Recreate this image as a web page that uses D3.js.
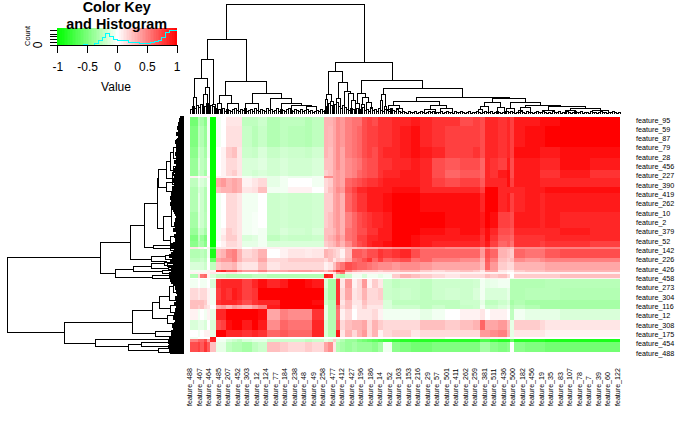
<!DOCTYPE html>
<html><head><meta charset="utf-8">
<script src="https://cdnjs.cloudflare.com/ajax/libs/d3/7.8.5/d3.min.js"></script>
<style>html,body{margin:0;padding:0;background:#fff}svg{display:block}text{font-family:"Liberation Sans",Arial,sans-serif;fill:#000}</style>
</head><body><svg id="c" width="700" height="432"></svg>
<script>
const columnLabels=["488","467","464","485","207","452","303","12","124","77","184","238","48","49","258","477","412","427","196","186","14","52","163","153","216","29","57","501","411","262","259","381","511","436","500","182","456","19","35","83","107","78","7","39","60","122"];
const rowLabels=["95","59","87","79","28","456","227","390","419","262","10","2","379","52","142","226","426","458","273","304","116","12","308","175","454","488"];
const colSizes=[8,2,4,3,3,6,5,5,6,5,5,10,6,9,13,8,17,7,12,4,5,3,4,5,7,5,5,5,5,6,5,9,8,11,9,12,13,15,13,7,5,5,8,9,3,4,11,15,5,15,30,30];
const rowSizes=[9,21,11,12,6,2,9,6,19,16,7,6,6,2,9,4,8,2,2,4,1,9,12,5,4,11,10,7,2,3,10];
const cellValues=[
[-55,-30,-35,-45,-5,-100,-5,0,10,10,10,-25,-25,-20,-30,-25,-25,-30,-25,30,30,35,45,40,50,55,55,70,75,70,80,80,85,85,90,85,80,80,70,75,70,85,85,80,85,75,90,90,95,95,100,100],
[-50,-25,-30,-40,-5,-100,-5,0,12,12,12,-22,-28,-22,-30,-25,-28,-30,-25,30,28,35,45,40,50,55,60,70,75,75,80,80,85,90,95,85,80,75,75,75,70,85,85,80,85,75,90,95,95,100,100,100],
[-45,-20,-25,-35,-5,-100,0,5,20,25,10,-20,-22,-15,-22,-18,-20,-22,-18,30,25,35,45,35,50,55,60,70,75,70,80,85,85,90,95,90,85,75,75,80,70,85,85,80,85,75,95,95,90,90,95,95],
[-40,-15,-25,-30,0,-100,0,5,15,15,10,-15,-15,-12,-18,-15,-18,-18,-15,25,25,35,45,35,45,50,55,65,70,70,80,80,85,85,90,85,70,65,70,70,60,85,80,75,90,70,90,90,85,85,95,90],
[-40,-20,-25,-35,0,-100,0,5,15,20,10,-15,-18,-15,-18,-15,-18,-18,-15,20,25,35,40,35,45,50,60,65,70,70,80,85,85,90,90,85,70,60,65,65,60,85,80,90,95,70,90,90,80,80,90,80],
[5,0,5,5,5,-100,5,5,5,5,5,-5,-10,-8,-10,-5,-8,-8,-5,45,45,35,40,35,45,50,60,65,70,70,80,85,85,90,90,85,70,60,65,65,60,85,80,90,95,70,90,90,80,80,90,80],
[-25,-10,-15,-20,0,-100,35,40,30,35,30,5,10,15,-10,-5,0,0,-5,15,20,35,40,35,60,65,70,75,80,80,85,90,90,90,90,85,75,70,75,75,65,85,85,85,95,75,90,90,85,85,85,85],
[-30,-15,-20,-30,0,-100,25,30,30,35,30,10,12,25,-5,-5,5,5,0,15,25,35,45,40,65,75,85,85,90,90,90,90,95,95,95,85,85,85,85,85,75,100,100,85,85,85,85,90,90,95,95,95],
[-30,-10,-20,-30,0,-100,-5,0,15,15,10,-5,-5,0,-20,-18,-20,-20,-18,20,20,35,40,30,60,70,80,80,90,90,90,95,100,100,100,95,95,95,95,95,85,100,100,85,90,75,85,90,85,90,90,90],
[-35,-12,-20,-28,0,-100,-5,0,15,15,10,-5,-3,0,-20,-18,-20,-20,-18,20,25,35,40,30,50,60,70,75,80,85,85,90,100,100,100,100,100,95,95,95,90,100,95,75,75,70,90,90,85,90,85,85],
[-40,-20,-25,-35,0,-100,-5,5,20,15,10,-5,-3,-5,-20,-15,-18,-20,-15,25,25,30,40,30,55,60,70,70,80,80,90,90,100,100,100,95,95,90,95,95,85,95,85,70,70,65,85,85,85,85,90,85],
[-50,-25,-40,-50,0,-100,-5,10,20,20,10,-15,-12,-5,-25,-20,-22,-22,-20,25,30,35,45,35,55,60,75,75,85,85,90,90,100,100,95,90,90,90,90,90,80,95,80,65,65,60,80,80,80,85,85,85],
[-45,-30,-35,-45,0,-100,0,5,15,15,10,-10,-10,-5,-15,-15,-15,-15,-15,20,25,30,40,30,45,60,70,75,85,90,90,95,100,100,95,90,85,85,85,85,80,90,75,60,65,55,80,80,75,80,80,75],
[10,5,5,0,5,-60,10,10,10,10,10,0,5,5,5,5,5,5,5,5,15,15,15,15,25,25,30,30,35,35,40,40,45,45,50,50,50,45,45,45,35,50,40,30,30,25,45,45,45,50,50,50],
[-30,-30,-25,-30,-5,-90,25,30,45,50,30,15,20,30,0,5,10,8,10,30,25,20,15,5,25,65,65,60,70,70,80,75,80,85,70,60,60,60,60,60,40,70,60,30,25,20,60,55,55,65,70,70],
[-25,-25,-20,-25,0,-60,35,40,40,50,30,20,20,35,15,15,20,20,20,15,25,10,20,15,30,55,60,70,80,60,75,60,65,70,55,60,50,50,45,45,30,65,50,25,20,25,45,40,45,50,50,50],
[-15,-15,-15,-20,0,-25,20,25,25,30,15,10,10,25,10,15,15,15,15,5,10,25,45,55,70,65,60,60,55,50,45,45,40,45,45,40,35,35,35,35,25,60,40,20,15,15,30,30,30,35,35,35],
[-5,-5,-5,-5,5,5,80,85,70,70,50,40,40,50,35,35,40,40,35,25,40,60,85,75,50,35,30,25,25,25,20,25,25,30,30,20,15,20,25,20,10,35,35,10,5,5,20,25,25,30,30,30],
[5,5,5,5,5,10,5,5,10,10,5,0,0,5,0,0,0,0,0,5,5,10,40,55,10,5,5,5,5,5,5,5,5,5,5,5,5,5,5,5,5,5,5,5,0,0,5,5,5,5,5,5],
[-30,15,55,60,5,-15,-25,-25,-30,-30,-30,-30,-25,-25,-30,-30,-30,-30,-30,90,85,10,-25,-30,-20,-5,-5,-15,-5,-5,-10,-5,20,30,25,20,15,10,15,15,15,25,20,25,15,0,20,20,20,20,25,25],
[0,0,0,0,0,0,5,5,5,5,5,5,5,5,5,5,5,5,5,10,10,0,30,5,5,0,0,0,0,0,0,0,5,5,5,5,0,0,0,0,0,5,5,5,0,-5,5,5,5,5,5,5],
[-5,0,-5,-5,0,-15,80,85,85,85,85,75,85,95,85,90,100,95,90,-15,-35,-35,80,10,40,5,15,40,5,20,10,-20,-25,-22,-22,-25,-20,-20,-20,-18,-5,-10,-8,-5,-5,-30,-30,-30,-30,-28,-28,-28],
[15,10,15,15,5,-5,75,85,80,90,85,75,80,100,100,100,100,100,100,-20,-35,-35,80,15,35,10,15,30,15,15,20,-20,-22,-20,-22,-25,-20,-18,-20,-15,-5,-15,-15,-15,-10,-30,-30,-28,-28,-28,-30,-30],
[25,25,25,20,5,-5,80,85,85,85,80,70,80,85,85,100,100,100,95,-20,-30,-30,80,10,25,10,10,25,15,15,15,-15,-25,-25,-25,-25,-25,-25,-20,-20,-10,-25,-25,-20,-15,-35,-30,-35,-35,-35,-35,-35],
[25,20,25,15,10,0,35,40,30,40,35,30,40,50,90,100,100,100,100,-10,-30,-30,60,15,25,5,10,20,10,10,10,-15,-20,-20,-20,-25,-20,-25,-22,-20,-5,-20,-20,-15,-10,-30,-25,-30,-35,-35,-35,-35],
[5,-5,0,-5,5,-10,85,85,100,100,100,100,100,95,35,50,45,45,80,-10,-30,-30,55,5,15,0,10,10,10,15,5,-5,-5,-5,-5,-10,-5,0,5,5,10,0,5,5,0,-25,-5,-10,-10,-10,-15,-15],
[-15,-10,-10,-15,0,-15,70,75,95,100,100,90,100,90,45,60,55,55,85,-15,-30,-30,60,15,25,30,30,35,15,30,20,15,15,15,15,25,25,20,25,30,60,35,35,40,25,-10,20,20,15,10,10,10],
[0,-5,0,5,5,-10,100,100,85,85,85,80,85,80,60,65,60,60,85,-15,-30,-30,90,10,30,15,30,40,15,30,5,15,20,20,10,15,15,15,15,15,40,40,45,50,30,-10,10,10,10,5,5,5],
[-5,0,0,0,0,90,0,0,0,0,0,0,0,0,0,0,0,0,0,0,0,0,0,0,0,0,0,0,0,0,0,0,0,0,0,5,5,0,0,0,10,10,5,5,0,-5,0,0,0,0,0,0],
[50,60,60,70,40,85,-5,-5,-15,-20,-25,-15,-10,-10,-20,-20,-20,-25,-20,-10,-15,20,-20,-30,-40,-40,-50,-55,-60,-65,-70,-75,-80,-85,-85,-85,-85,-85,-85,-85,-70,-70,-80,-85,-85,-60,-85,-85,-85,-90,-90,-90],
[70,75,65,80,65,25,-10,-10,-25,-30,-30,-35,-25,-20,25,20,15,20,15,35,45,10,-30,-35,-40,-35,-40,-40,-40,-45,-35,-5,-45,-50,-55,-55,-50,-50,-50,-50,-35,-35,-45,-50,-45,0,-45,-50,-50,-55,-55,-55]
];
const keyHistogram=[0,0,0,0,0,0,0,1,0,0,2,5,8,12,9,6,4.5,4.5,4.5,3,2.5,2.5,2,1.8,2,2.5,4,5,8,13,15,14.5];
const keyTicks=[-1,-0.5,0,0.5,1];
const keyCountTicks=[0,3,6,8.5,11,14.5];
// dendrogram nodes: [leaf position, merge height, left, right]; a bare number is a leaf
const colTree=[105.5,109.5,
 [36.5,74.5,
  [17.3,54.5,
   [11.3,35.5,[4.3,16.5,3,6.3],[17.3,26.5,[15,19.5,13.3,17.3],19.3]],
   [23.3,9.5,22,25.3]],
  [56.3,32.7,
   [35.3,18.5,[29.3,10.7,27.3,31.3],[41.3,10.4,37.3,48.3]],
   [76.3,20.7,[62.3,10.7,55.3,68.7],[91.3,15.7,80.3,[101.3,10.3,91.7,[111.7,9,101.7,[121.7,7.3,116.7,126.7]]]]]]],
 [174.5,51.7,
  [145.3,42.5,
   [138.3,19.5,[136.3,14.7,135.5,137.3],[141.7,12.3,140.3,143.5]],
   [152.3,31.5,[148.3,15.7,146.5,150],[157.7,22.7,154.3,[160.7,20.7,158.5,[163,14,161,165]]]]],
  [202.3,33.7,
   [171.3,20.7,[167.3,11,165.5,169.5],[175.3,16.7,[172.3,10,171,174],[178.3,11.7,176.5,[181,7,180,182]]]],
   [232.7,25.7,
    [193.3,19.7,[191.3,14,190,192.5],[195,8,194,196]],
    [272.3,16.7,
     [226,12.7,[203.3,9,[198,5,196,201],[209,6,206,212]],[249.3,9,[240,5,234,245],[256,6,250,262]]],
     [319,16,
      [302.3,11.7,[294.3,8,[290,5,288,292],298],[310.7,7,307,314]],
      [335,11.7,[320,6,[316,3,315,318],324],[350,9,[335,7,[330,4,328,332],340],[370,7.5,[358,4,352,364],[395,6,[380,4,375,385],[410,4,402,418]]]]]]]]]]];
const rowTree=[177.8,176.7,
 [140.3,84,
  [125.3,54,
   [108.7,39.7,
    [86.7,27,
     [61.3,25.5,
      [52.3,18,[44.7,14,[35.7,10.7,[30.3,7.3,22,38],41],[53,11,49,58]],[61.3,12,[55,9,53,58],[67,8,65,69]]],
      [70.3,18,[65.7,10,63,68],[74.7,12,[72,6,71,73],[78,5,76,80]]]],
     [111.3,20.7,[99.7,12.3,[89.7,8,86,93],[109.7,6,106,113]],[123,14,[119,8,117,121],[127,7,125,129]]]],
    [130.5,30.7,[128.7,14,126,131],[131.3,14,130,133]]],
   [142.3,33,[139.7,19,[138,10,136,140],[142,8,141,144]],[144.7,17,[146,8,145,147],149]]],
  [156.3,68.7,
   [152.3,50.7,[149.7,33,[146.3,20,145,148],[151,16,150,152]],[154.7,22,153,156]],
   [160.3,31.7,[158.7,15,157.5,160],[161.3,12,161,163]]]],
 [215.3,119.7,
  [205.3,51.7,
   [193,31.7,
    [185.3,24.7,[179.7,14.7,[169.7,11,[165,7,163,167],[175,6,172,178]],[183,8,181,185]],[191.3,14,[188,8,186,190],[195,7,193,197]]],
    [201.3,17,[198,10,[197,5,196,199],200],[206.3,9,204,209]]],
   [216.3,28.7,[214.7,12,213,216],[219,10,218,220]]],
  [226.3,88.7,
   [222.3,14,221,224],
   [229.7,55.7,[227,42.7,[225.7,16,225,226.5],[229,16,228,230]],[233,26,[231,14,230.5,232],[235,14,234,235]]]]]];
const colTwigHeights=[5,8,6,9,7,10,6,8,11,7,9,8,6,
3,5,4,6,3,5,4,3,5,6,4,3,5,4,6,3,4,5,3,6,4,3,5,4,3,6,4,5,3,4,6,3,5,4,3,5,6,4,3,5,4,3,5,3,4,5,3,4,2,3,4,3,5,3,4,
8,11,9,7,10,12,8,6,9,7,
5,4,6,5,3,6,4,5,7,4,5,3,6,4,5,3,6,4,3,5,4,3,6,4,3,5,3,
2,3,2,1,3,2,2,3,1,2,3,2,1,2,3,2,3,1,2,2,3,1,2,3,2,2,1,3,2,2,3,2,1,2,3,1,2,2,3,2,
1,2,3,2,2,3,1,2,3,2,1,2,2,3,2,3,2,1,2,2,3,2,1,3,2,2,1,2,3,2,2,3,2,1,2,1,3,2,2,3,
1,2,2,3,2,1,2,3,2,2,3,1,2,2,1,3,2,2,1,2,3,2,2,1,2,2,3,2,1,2];
const rowTwigHeights=[3,4,3,5,4,6,4,5,7,5,4,6,8,5,6,4,7,
6,8,5,7,6,9,7,6,8,10,6,8,9,7,10,8,7,9,11,8,
10,12,11,13,12,10,13,11,12,10,9,8,7,
6,8,7,9,6,8,10,7,6,9,8,7,
8,10,12,9,7,10,12,14,9,11,13,10,8,12,10,
12,14,13,11,13,12,10,
6,8,5,7,4,6,8,5,7,9,5,6,8,
6,9,7,10,8,6,9,11,8,10,12,10,
12,14,13,15,13,14,12,14,13];

const svg=d3.select("#c");
const color=d3.scaleLinear().domain([-100,0,100]).range(["#00ff00","#ffffff","#ff0000"]);
const x=d3.scaleLinear().domain([0,d3.sum(colSizes)]).range([190,620]);
const y=d3.scaleLinear().domain([0,d3.sum(rowSizes)]).range([117,352]);
const colEdges=d3.cumsum(colSizes), rowEdges=d3.cumsum(rowSizes);
const hm=svg.append("g").attr("shape-rendering","crispEdges");
cellValues.forEach((row,r)=>{const y0=r?rowEdges[r-1]:0;
 hm.selectAll(null).data(row).enter().append("rect")
  .attr("x",(d,c)=>x(c?colEdges[c-1]:0)).attr("width",(d,c)=>x(colEdges[c])-x(c?colEdges[c-1]:0))
  .attr("y",y(y0)).attr("height",y(rowEdges[r])-y(y0)).attr("fill",d=>color(d));});

// dendrograms
const topH=d3.scaleLinear().domain([0,110]).range([114,4]);
const sideH=d3.scaleLinear().domain([0,177]).range([184,7]);
function segs(n,out){ if(typeof n==="number") return {p:n,h:0};
 const l=segs(n[2],out), r=segs(n[3],out); out.push([n[1],l,r]); return {p:n[0],h:n[1]};}
function draw(tree,twigs,spacing,horizontal,twigWidth){
 const out=[]; segs(tree,out);
 const twigSegs=twigs.map((h,i)=>[h,{p:i*spacing,h:0},{p:(i+1)*spacing,h:0}]);
 const path=([h,l,r])=>horizontal
   ?`M${x(l.p)},${topH(l.h)}V${topH(h)}H${x(r.p)}V${topH(r.h)}`
   :`M${sideH(l.h)},${y(l.p)}H${sideH(h)}V${y(r.p)}H${sideH(r.h)}`;
 const g=svg.append("g").attr("fill","none").attr("stroke","#000").attr("shape-rendering","crispEdges");
 g.append("g").attr("stroke-width",1).selectAll("path").data(out).enter().append("path").attr("d",path);
 g.append("g").attr("stroke-width",twigWidth).selectAll("path").data(twigSegs).enter().append("path").attr("d",path);
}
draw(colTree,colTwigHeights,2,true,1);
draw(rowTree,rowTwigHeights,2,false,2);

// labels
const lx=d3.scalePoint().domain(columnLabels).range([189.5,617]);
svg.append("g").selectAll("text").data(columnLabels).enter().append("text")
 .attr("transform",d=>`translate(${lx(d)+2.5},406) rotate(-90)`).attr("font-size",7.1).attr("fill","#222").text(d=>"feature_"+d);
const ly=d3.scalePoint().domain(rowLabels).range([120,353]);
svg.append("g").selectAll("text").data(rowLabels).enter().append("text")
 .attr("x",636).attr("y",d=>ly(d)+2.5).attr("font-size",7.2).attr("fill","#222").text(d=>"feature_"+d);

// colour key
const kx=d3.scaleLinear().domain([-1,1]).range([57.3,176.7]);
const ky=d3.scaleLinear().domain([0,17]).range([45,28]);
const steps=d3.range(-1,1,2/75);
svg.append("g").attr("shape-rendering","crispEdges").selectAll("rect").data(steps).enter().append("rect")
 .attr("x",d=>kx(d)).attr("width",kx(2/75-1)-kx(-1)+0.5).attr("y",ky(17)).attr("height",ky(0)-ky(17)).attr("fill",d=>color(d*100));
const binW=2/keyHistogram.length;
const histPts=[]; keyHistogram.forEach((v,i)=>{histPts.push([-1+i*binW,v],[-1+(i+1)*binW,v]);});
svg.append("path").attr("d",d3.line().x(d=>kx(d[0])).y(d=>ky(d[1]))(histPts)).attr("fill","none").attr("stroke","#00ffff").attr("stroke-width",1).attr("shape-rendering","crispEdges");
const ax=d3.axisBottom(kx).tickValues(keyTicks).tickSize(8).tickPadding(9).tickFormat(d=>d);
const axG=svg.append("g").attr("transform","translate(0,45)").call(ax);
axG.selectAll("line,path").attr("stroke","#000").attr("shape-rendering","crispEdges");
axG.select(".domain").attr("d",`M${kx(-1)},0H${kx(1)}`);
axG.selectAll("text").attr("font-size",12).attr("font-family","Liberation Sans").attr("fill","#000");
svg.append("g").attr("shape-rendering","crispEdges").selectAll("line").data(keyCountTicks).enter().append("line")
 .attr("x1",50).attr("x2",kx(-1)).attr("y1",d=>ky(d)).attr("y2",d=>ky(d)).attr("stroke","#000");
svg.append("text").attr("transform","translate(30,36) rotate(-90)").attr("text-anchor","middle").attr("font-size",7.5).attr("fill","#333").text("Count");
svg.append("text").attr("transform","translate(42,45) rotate(-90)").attr("text-anchor","middle").attr("font-size",12).text("0");
svg.append("text").attr("x",116).attr("y",91).attr("text-anchor","middle").attr("font-size",12).text("Value");
svg.append("text").attr("x",116.7).attr("y",12).attr("text-anchor","middle").attr("font-size",14.4).attr("font-weight","bold").text("Color Key");
svg.append("text").attr("x",116.7).attr("y",28.5).attr("text-anchor","middle").attr("font-size",14.4).attr("font-weight","bold").text("and Histogram");
</script></body></html>
